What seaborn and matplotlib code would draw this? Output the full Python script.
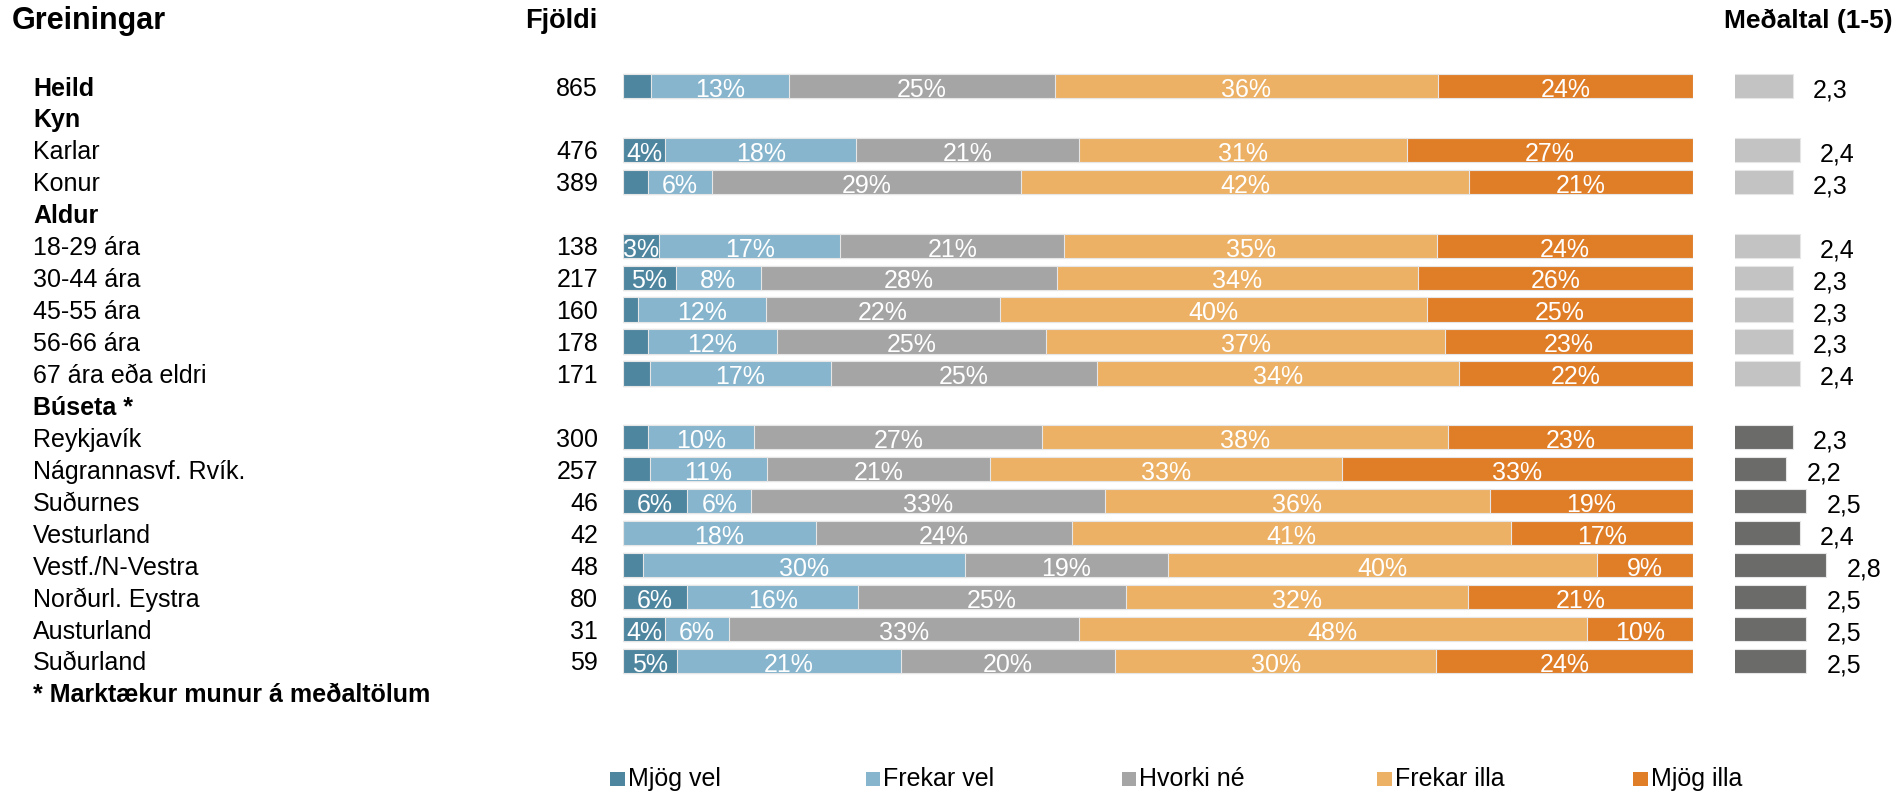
import numpy as np
import pandas as pd
import matplotlib
matplotlib.use("Agg")
import matplotlib.pyplot as plt
import matplotlib.transforms as mtransforms
from matplotlib.patches import Rectangle
import seaborn as sns

sns.set_style("white")
plt.rcParams["font.family"] = ["Liberation Sans", "DejaVu Sans"]
plt.rcParams["text.color"] = "black"

# Row layout: group headings and sub-groups, top to bottom
rows = ["Heild", "Kyn", "Karlar", "Konur", "Aldur", "18-29 ára", "30-44 ára",
        "45-55 ára", "56-66 ára", "67 ára eða eldri", "Búseta *", "Reykjavík",
        "Nágrannasvf. Rvík.", "Suðurnes", "Vesturland", "Vestf./N-Vestra",
        "Norðurl. Eystra", "Austurland", "Suðurland",
        "* Marktækur munur á meðaltölum"]
bold_rows = {"Heild", "Kyn", "Aldur", "Búseta *", "* Marktækur munur á meðaltölum"}

groups = ["Heild", "Karlar", "Konur", "18-29 ára", "30-44 ára", "45-55 ára",
          "56-66 ára", "67 ára eða eldri", "Reykjavík", "Nágrannasvf. Rvík.",
          "Suðurnes", "Vesturland", "Vestf./N-Vestra", "Norðurl. Eystra",
          "Austurland", "Suðurland"]
counts = [865, 476, 389, 138, 217, 160, 178, 171, 300, 257, 46, 42, 48, 80, 31, 59]

categories = ["Mjög vel", "Frekar vel", "Hvorki né", "Frekar illa", "Mjög illa"]
mjog_vel = [2.6, 4, 2.3, 3.4, 5, 1.4, 2.3, 2.5, 2.3, 2.5, 6, 0, 1.9, 6, 4, 5]
frekar_vel = [13, 18, 6, 17, 8, 12, 12, 17, 10, 11, 6, 18, 30, 16, 6, 21]
hvorki_ne = [25, 21, 29, 21, 28, 22, 25, 25, 27, 21, 33, 24, 19, 25, 33, 20]
frekar_illa = [36, 31, 42, 35, 34, 40, 37, 34, 38, 33, 36, 41, 40, 32, 48, 30]
mjog_illa = [24, 27, 21, 24, 26, 25, 23, 22, 23, 33, 19, 17, 9, 21, 10, 24]

means = [2.3, 2.4, 2.3, 2.4, 2.3, 2.3, 2.3, 2.4, 2.3, 2.2, 2.5, 2.4, 2.8, 2.5, 2.5, 2.5]
mean_group = ["Heild"] + ["Bakgrunnur"] * 7 + ["Búseta"] * 8

colors = ["#4E86A0", "#86B5CD", "#A5A5A5", "#ECB165", "#E07E28"]
mean_colors = {"Heild": "#C3C3C3", "Bakgrunnur": "#C3C3C3", "Búseta": "#6B6B6A"}

W, H = 1903, 796
fig = plt.figure(figsize=(W / 100, H / 100), dpi=100)

# vertical geometry (pixels from top): first row centre and row pitch
y0, pitch = 86.0, 31.94
top_px = y0 - 0.5 * pitch
bot_px = y0 + (len(rows) - 0.5) * pitch
ax_b = 1 - bot_px / H
ax_h = (bot_px - top_px) / H

ax = fig.add_axes([623 / W, ax_b, (1693 - 623) / W, ax_h])
ax_m = fig.add_axes([1735 / W, ax_b, (W - 1735) / W, ax_h])

values = np.array([mjog_vel, frekar_vel, hvorki_ne, frekar_illa, mjog_illa], dtype=float)
shares = values / values.sum(axis=0) * 100
cum = shares.cumsum(axis=0)

# stacked 100% bars: draw cumulative totals from the right-most segment down
for k in reversed(range(len(categories))):
    df = pd.DataFrame({"grp": groups, "cum": cum[k]})
    sns.barplot(data=df, x="cum", y="grp", order=rows, orient="h",
                color=colors[k], saturation=1, width=0.76, errorbar=None,
                edgecolor="#E6E6E6", linewidth=0.8, ax=ax)

for j, g in enumerate(groups):
    yi = rows.index(g)
    for k in range(len(categories)):
        v = values[k, j]
        if v >= 3:
            ax.text(cum[k, j] - shares[k, j] / 2, yi + 0.12, f"{v:.0f}%",
                    ha="center", va="center", color="white", fontsize=18)

ax.set_xlim(0, 100)
ax.set_ylim(len(rows) - 0.5, -0.5)

# mean score bars
dfm = pd.DataFrame({"grp": groups, "mean": means, "set": mean_group})
sns.barplot(data=dfm, x="mean", y="grp", order=rows, orient="h", hue="set",
            palette=mean_colors, dodge=False, legend=False, saturation=1,
            width=0.76, errorbar=None, edgecolor="#E6E6E6", linewidth=0.8, ax=ax_m)
mean_lo = 1.43
ax_m.set_xlim(mean_lo, mean_lo + (W - 1735) / 66.75)
ax_m.set_ylim(len(rows) - 0.5, -0.5)
for g, m in zip(groups, means):
    ax_m.text(m + 0.3, rows.index(g) + 0.14, f"{m:.1f}".replace(".", ","),
              ha="left", va="center", fontsize=18, color="black")

for a in (ax, ax_m):
    a.set_xlabel("")
    a.set_ylabel("")
    a.set_xticks([])
    a.set_yticks([])
    for s in a.spines.values():
        s.set_visible(False)

# row labels and counts
tr = mtransforms.blended_transform_factory(fig.transFigure, ax.transData)
for i, r in enumerate(rows):
    fig.text(33 / W, i + 0.08, r, transform=tr, ha="left", va="center", fontsize=18,
             fontweight="bold" if r in bold_rows else "normal")
for g, n in zip(groups, counts):
    fig.text(598 / W, rows.index(g) + 0.08, str(n), transform=tr, ha="right",
             va="center", fontsize=18)

# column headings
fig.text(12 / W, 1 - 21 / H, "Greiningar", ha="left", va="center",
         fontsize=22, fontweight="bold")
fig.text(597 / W, 1 - 21 / H, "Fjöldi", ha="right", va="center",
         fontsize=19.5, fontweight="bold")
fig.text(1893 / W, 1 - 21 / H, "Meðaltal (1-5)", ha="right", va="center",
         fontsize=19, fontweight="bold")

# legend row
leg_y = 1 - 779 / H
sq = 14.5
for k, c in enumerate(categories):
    x_px = 610 + 255.8 * k
    fig.patches.append(Rectangle((x_px / W, leg_y - sq / 2 / H), sq / W, sq / H,
                                 transform=fig.transFigure, facecolor=colors[k],
                                 edgecolor="none"))
    fig.text((x_px + sq + 3) / W, leg_y, c, ha="left", va="center", fontsize=18)

fig.savefig("out.png", dpi=100)
